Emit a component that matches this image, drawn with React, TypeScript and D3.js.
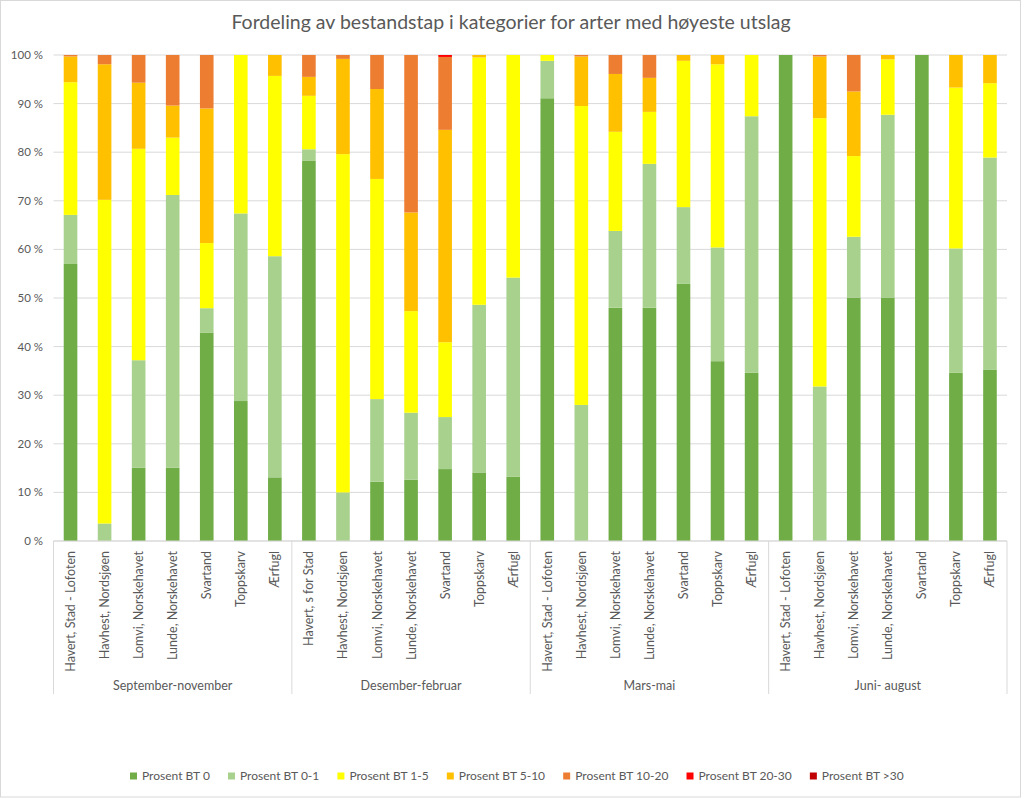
import React from "react";
import * as d3 from "d3";

const categories = [
  "Havert, Stad - Lofoten", "Havhest, Nordsjøen", "Lomvi, Norskehavet", "Lunde, Norskehavet", "Svartand", "Toppskarv", "Ærfugl",
  "Havert, s for Stad", "Havhest, Nordsjøen", "Lomvi, Norskehavet", "Lunde, Norskehavet", "Svartand", "Toppskarv", "Ærfugl",
  "Havert, Stad - Lofoten", "Havhest, Nordsjøen", "Lomvi, Norskehavet", "Lunde, Norskehavet", "Svartand", "Toppskarv", "Ærfugl",
  "Havert, Stad - Lofoten", "Havhest, Nordsjøen", "Lomvi, Norskehavet", "Lunde, Norskehavet", "Svartand", "Toppskarv", "Ærfugl",
];
const periods = ["September-november", "Desember-februar", "Mars-mai", "Juni- august"];

const seriesNames = ["Prosent BT 0", "Prosent BT 0-1", "Prosent BT 1-5", "Prosent BT 5-10", "Prosent BT 10-20", "Prosent BT 20-30", "Prosent BT >30"];
const seriesColors = ["#70AD47", "#A9D18E", "#FFFF00", "#FFC000", "#ED7D31", "#FF0000", "#C00000"];

const bt0 = [57.0, 0, 15.1, 15.1, 42.9, 28.8, 13.1, 78.2, 0, 12.2, 12.6, 14.8, 14.1, 13.2, 91.1, 0, 48.0, 48.0, 52.9, 37.0, 34.6, 100, 0, 50.1, 50.1, 100, 34.6, 35.2];
const bt01 = [10.1, 3.6, 22.1, 56.1, 5.0, 38.6, 45.5, 2.4, 10.0, 17.0, 13.8, 10.7, 34.5, 41.0, 7.7, 28.0, 15.8, 29.6, 15.8, 23.4, 52.8, 0, 31.8, 12.5, 37.6, 0, 25.6, 43.7];
const bt15 = [27.3, 66.6, 43.5, 11.8, 13.4, 32.6, 37.1, 11.0, 69.6, 45.3, 20.9, 15.4, 50.9, 45.8, 1.2, 61.5, 20.4, 10.7, 30.1, 37.7, 12.6, 0, 55.2, 16.6, 11.4, 0, 33.1, 15.3];
const bt510 = [5.3, 27.9, 13.6, 6.6, 27.7, 0, 4.3, 3.9, 19.6, 18.5, 20.3, 43.7, 0.5, 0, 0, 10.2, 11.9, 7.0, 1.2, 1.9, 0, 0, 12.7, 13.3, 0.9, 0, 6.7, 5.8];
const bt1020 = [0.3, 1.9, 5.7, 10.4, 11.0, 0, 0, 4.5, 0.8, 7.0, 32.4, 15.0, 0, 0, 0, 0.3, 3.9, 4.7, 0, 0, 0, 0, 0.3, 7.5, 0, 0, 0, 0];
const bt2030 = [0, 0, 0, 0, 0, 0, 0, 0, 0, 0, 0, 0.4, 0, 0, 0, 0, 0, 0, 0, 0, 0, 0, 0, 0, 0, 0, 0, 0];
const bt30 = [0, 0, 0, 0, 0, 0, 0, 0, 0, 0, 0, 0, 0, 0, 0, 0, 0, 0, 0, 0, 0, 0, 0, 0, 0, 0, 0, 0];

const yTicks = [0, 10, 20, 30, 40, 50, 60, 70, 80, 90, 100];

const FONT = "Lato, 'Open Sans', sans-serif";
const TEXT = "#595959";

function measure(text: string, size: number) {
  const c = document.createElement("canvas").getContext("2d");
  if (!c) return text.length * size * 0.5;
  c.font = `${size}px Lato`;
  return c.measureText(text).width;
}

export default function App() {
  const W = 1024, H = 799;
  const left = 53.5, right = 1007, top = 55, bottom = 541;
  const allSeries = [bt0, bt01, bt15, bt510, bt1020, bt2030, bt30];
  const rows = categories.map((c, i) => {
    const r: any = { idx: i };
    seriesNames.forEach((s, k) => (r[s] = allSeries[k][i]));
    return r;
  });
  const stacked = d3.stack<any>().keys(seriesNames)(rows);
  const x = d3.scaleBand<number>().domain(categories.map((_, i) => i)).range([left, right]).paddingInner(0.6).paddingOuter(0.3);
  const y = d3.scaleLinear().domain([0, 100]).range([bottom, top]);
  const group = d3.scaleBand<number>().domain(periods.map((_, i) => i)).range([left, right]);

  // legend layout
  const legSize = 12;
  const items = seriesNames.map((s) => ({ s, w: 7 + 5 + measure(s, legSize) }));
  const legStart = 130, legEnd = 904;
  const gap = Math.max(12, (legEnd - legStart - d3.sum(items, (d) => d.w)) / (items.length - 1));
  let cx = legStart;
  const legendPos = items.map((it) => {
    const p = cx;
    cx += it.w + gap;
    return p;
  });

  return (
    <svg width={W} height={H} style={{ position: "absolute", left: 0, top: 0, display: "block", background: "#fff" }} fontFamily={FONT}>
      <rect x={0.5} y={0.5} width={1020} height={796.5} fill="#fff" stroke="#D9D9D9" />
      <text x={511} y={29} textAnchor="middle" fontSize={19.5} fill={TEXT}>
        Fordeling av bestandstap i kategorier for arter med høyeste utslag
      </text>
      {yTicks.map((t) => (
        <g key={t}>
          <line x1={left} x2={right} y1={y(t)} y2={y(t)} stroke="#D9D9D9" strokeWidth={1} />
          <text x={43} y={y(t)} dy="0.35em" textAnchor="end" fontSize={11.5} fill={TEXT}>
            {`${t} %`}
          </text>
        </g>
      ))}
      {stacked.map((layer, k) => (
        <g key={layer.key} fill={seriesColors[k]}>
          {layer.map((d, i) =>
            d[1] - d[0] > 0 ? (
              <rect key={i} x={x(i)} width={x.bandwidth()} y={y(d[1])} height={y(d[0]) - y(d[1])} />
            ) : null
          )}
        </g>
      ))}
      <line x1={left} x2={right} y1={bottom} y2={bottom} stroke="#D9D9D9" />
      {periods.map((p, g) => (
        <g key={p}>
          <line x1={group(g)} x2={group(g)} y1={bottom} y2={694} stroke="#D9D9D9" />
          <text x={(group(g) as number) + group.bandwidth() / 2} y={690} textAnchor="middle" fontSize={12.5} fill={TEXT}>
            {p}
          </text>
        </g>
      ))}
      <line x1={right} x2={right} y1={bottom} y2={694} stroke="#D9D9D9" />
      {categories.map((c, i) => {
        const xc = (x(i) as number) + x.bandwidth() / 2;
        return (
          <text key={i} transform={`translate(${xc + 4.5},${551}) rotate(-90)`} textAnchor="end" fontSize={12.5} fill={TEXT}>
            {c}
          </text>
        );
      })}
      {seriesNames.map((s, k) => (
        <g key={s} transform={`translate(${legendPos[k]},776)`}>
          <rect x={0} y={-3.5} width={7} height={7} fill={seriesColors[k]} />
          <text x={12} y={0} dy="0.35em" fontSize={legSize} fill={TEXT}>
            {s}
          </text>
        </g>
      ))}
    </svg>
  );
}
